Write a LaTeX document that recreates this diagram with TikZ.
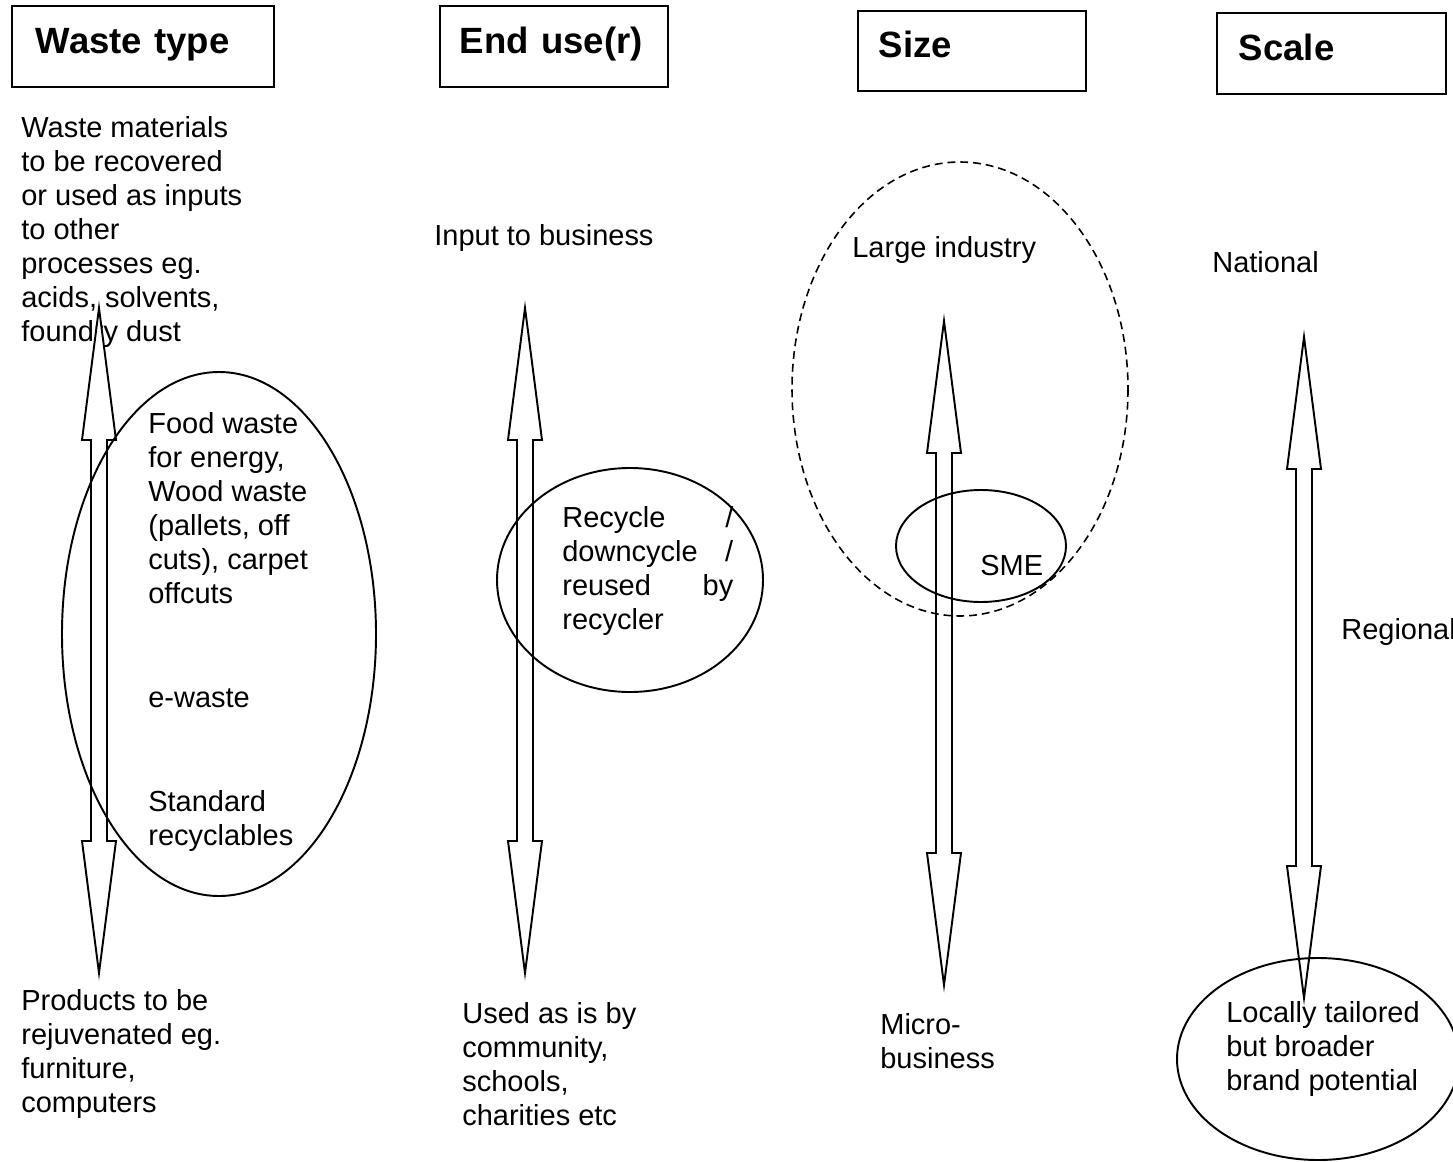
\documentclass[tikz,border=0pt]{standalone}
\usepackage{fontspec}
\setmainfont{Liberation Sans}

\newcommand{\bodyfont}{\fontsize{16.5}{19.35}\selectfont}
\newcommand{\titlefont}{\fontsize{20.8}{25}\selectfont\bfseries}

% 双向空心箭头:#1 为中心 x,#2 为上端尖,#3 为下端尖
\newcommand{\dblarrow}[3]{%
  \draw[blockarrow] (#1,#2) -- ++(17,132) -- ++(-9,0) -- (#1+8,#3-132) -- ++(9,0) -- (#1,#3)
    -- ++(-17,-132) -- ++(9,0) -- (#1-8,#2+132) -- ++(-9,0) -- cycle;}

\tikzset{
  titlebox/.style={draw, line width=1.1pt, anchor=north west, align=left, font=\titlefont,
    inner ysep=0pt, text height=0.5cm, text depth=0.22cm},
  txt/.style={anchor=base west, inner sep=0pt, align=left, font=\bodyfont}, % base 为最后一行的基线
  blockarrow/.style={draw, fill=white, line width=1.1pt, line join=miter},
  ring/.style={line width=1.1pt},
  dashring/.style={line width=0.9pt, dash pattern=on 4.5pt off 2.8pt},
}

\begin{document}
\begin{tikzpicture}[x=0.02cm, y=-0.02cm]
	\useasboundingbox (0,0) rectangle (1453,1162);
	
	% 四个标题框
	\node[titlebox, minimum height=1.62cm, text width=4.28cm, inner xsep=0.48cm] (wtype) at (11,5) {Waste type};
	\node[titlebox, minimum height=1.62cm, text width=3.76cm, inner xsep=0.40cm] (enduse) at (439,5) {End use(r)};
	\node[titlebox, minimum height=1.60cm, text width=3.72cm, inner xsep=0.42cm] (size) at (857,10) {Size};
	\node[titlebox, minimum height=1.62cm, text width=3.70cm, inner xsep=0.44cm] (scale) at (1216,12) {Scale};
	
	% 第一列:废物类型
	\node[txt] (wmat) at (21,341) {Waste materials\\to be recovered\\or used as inputs\\to other\\processes eg.\\acids, solvents,\\foundry dust};
	\node[txt] (food) at (148,603) {Food waste\\for energy,\\Wood waste\\(pallets, off\\cuts), carpet\\offcuts};
	\node[txt] (ewaste) at (148,707) {e-waste};
	\node[txt] (stdrec) at (148,845) {Standard\\recyclables};
	\node[txt] (prod) at (21,1112) {Products to be\\rejuvenated eg.\\furniture,\\computers};
	
	% 第二列:最终用途
	\node[txt] (input) at (434,245) {Input to business};
	\node[txt] (recyc) at (562,629) {\makebox[3.42cm][l]{Recycle\hfill/}\\\makebox[3.42cm][l]{downcycle\hfill/}\\\makebox[3.42cm][l]{reused\hfill by}\\recycler};
	\node[txt] (usedas) at (462,1125) {Used as is by\\community,\\schools,\\charities etc};
	
	% 第三列:规模大小
	\node[txt] (large) at (852,257) {Large industry};
	\node[txt] (sme) at (980,575) {SME};
	\node[txt] (micro) at (880,1068) {Micro-\\business};
	
	% 第四列:范围
	\node[txt] (nat) at (1212,273) {National};
	\node[txt] (reg) at (1341,639) {Regional};
	\node[txt] (local) at (1226,1090) {Locally tailored\\but broader\\brand potential};
	
	% 双向箭头,白色填充盖住下面的文字
	\dblarrow{99}{308}{973}
	\dblarrow{525}{308}{973}
	\dblarrow{944}{321}{985}
	\dblarrow{1304}{337}{998}
	
	% 椭圆圈
	\draw[ring] (219,634) ellipse [x radius=157, y radius=262];
	\draw[ring] (630,580) ellipse [x radius=133, y radius=112];
	\draw[dashring] (960,389) ellipse [x radius=168, y radius=227]; % 大企业,虚线
	\draw[ring] (981,546) ellipse [x radius=85, y radius=56];
	\draw[ring] (1318,1059) ellipse [x radius=141, y radius=101];
\end{tikzpicture}
\end{document}
